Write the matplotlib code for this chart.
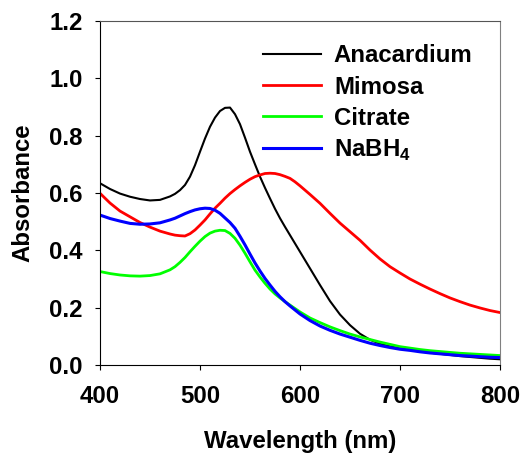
import matplotlib
matplotlib.use('Agg')
import matplotlib.pyplot as plt

plt.rcParams['font.family'] = ['Liberation Sans', 'DejaVu Sans']
plt.rcParams['font.weight'] = 'bold'
plt.rcParams['mathtext.fontset'] = 'custom'
plt.rcParams['mathtext.rm'] = 'Liberation Sans:bold'
plt.rcParams['mathtext.bf'] = 'Liberation Sans:bold'

FS = 17.3

# 10 nm steps at the ends, 5 nm across the plasmon band
wavelength = ([400, 410, 420, 430, 440, 450, 460]
              + list(range(470, 601, 5))
              + [610, 620, 630, 640, 650, 660, 670, 680, 690, 700,
                 710, 720, 730, 740, 750, 760, 770, 780, 790, 800])

anacardium = ([0.634, 0.614, 0.598, 0.587, 0.579, 0.574, 0.576]
              + [0.588, 0.597, 0.610, 0.628, 0.657, 0.697, 0.744, 0.790, 0.831,
                 0.863, 0.886, 0.897, 0.898, 0.875, 0.840, 0.793, 0.744, 0.700,
                 0.657, 0.618, 0.581, 0.545, 0.512, 0.482, 0.453, 0.424, 0.395]
              + [0.337, 0.279, 0.223, 0.176, 0.139, 0.109, 0.088, 0.074, 0.065, 0.058,
                 0.053, 0.048, 0.043, 0.039, 0.035, 0.031, 0.028, 0.025, 0.022, 0.020])
mimosa = ([0.599, 0.565, 0.537, 0.517, 0.497, 0.481, 0.467]
          + [0.457, 0.453, 0.451, 0.450, 0.458, 0.471, 0.488, 0.506, 0.527,
             0.547, 0.564, 0.582, 0.598, 0.612, 0.625, 0.637, 0.648, 0.657,
             0.663, 0.668, 0.669, 0.668, 0.664, 0.658, 0.651, 0.639, 0.625]
          + [0.595, 0.564, 0.529, 0.495, 0.465, 0.435, 0.401, 0.370, 0.343, 0.321,
             0.300, 0.282, 0.265, 0.249, 0.234, 0.221, 0.209, 0.199, 0.190, 0.183])
citrate = ([0.326, 0.319, 0.314, 0.311, 0.310, 0.312, 0.318]
           + [0.332, 0.343, 0.358, 0.375, 0.395, 0.414, 0.432, 0.448, 0.460,
              0.467, 0.470, 0.469, 0.459, 0.442, 0.418, 0.390, 0.360, 0.331,
              0.307, 0.285, 0.265, 0.248, 0.234, 0.221, 0.209, 0.197, 0.185]
           + [0.164, 0.148, 0.133, 0.120, 0.108, 0.098, 0.089, 0.080, 0.072, 0.064,
              0.059, 0.054, 0.050, 0.047, 0.044, 0.041, 0.039, 0.037, 0.035, 0.033])
nabh4 = ([0.523, 0.511, 0.502, 0.494, 0.491, 0.492, 0.496]
         + [0.506, 0.512, 0.520, 0.528, 0.535, 0.541, 0.545, 0.547, 0.546,
            0.540, 0.529, 0.513, 0.497, 0.477, 0.449, 0.419, 0.387, 0.356,
            0.328, 0.302, 0.279, 0.257, 0.238, 0.221, 0.206, 0.192, 0.178]
         + [0.155, 0.136, 0.121, 0.108, 0.097, 0.086, 0.076, 0.068, 0.061, 0.055,
            0.051, 0.046, 0.042, 0.039, 0.036, 0.033, 0.031, 0.029, 0.027, 0.026])

fig = plt.figure(figsize=(5.23, 4.54), dpi=100)
ax = fig.add_axes([100/523, 89/454, 400/523, 344/454])

ax.plot(wavelength, anacardium, color='black', lw=1.5, label='Anacardium')
ax.plot(wavelength, mimosa, color='#ff0000', lw=2.0, label='Mimosa')
ax.plot(wavelength, citrate, color='#00ff00', lw=2.0, label='Citrate')
ax.plot(wavelength, nabh4, color='#0000ff', lw=2.2, label=r'NaBH$_4$')

ax.set_xlim(400, 800)
ax.set_ylim(0, 1.2)
ax.set_xticks([400, 500, 600, 700, 800])
ax.set_yticks([0.0, 0.2, 0.4, 0.6, 0.8, 1.0, 1.2])
ax.set_yticklabels(['0.0', '0.2', '0.4', '0.6', '0.8', '1.0', '1.2'])
ax.tick_params(axis='both', direction='out', length=3.6, width=0.8,
               labelsize=FS, pad=9, top=False, right=False)
ax.tick_params(axis='x', pad=11)

ax.spines['top'].set_color('#555555')
ax.spines['right'].set_color('#808080')
for s in ax.spines.values():
    s.set_linewidth(0.8)

ax.set_xlabel('Wavelength (nm)', fontsize=FS, fontweight='bold')
ax.set_ylabel('Absorbance', fontsize=FS, fontweight='bold')
ax.xaxis.set_label_coords(0.5, -0.19)
ax.yaxis.set_label_coords(-0.165, 0.5)

ax.legend(loc='upper left', bbox_to_anchor=(0.4075, 0.932), frameon=False,
          prop={'size': FS, 'weight': 'bold'}, handlelength=2.4,
          handletextpad=0.55, labelspacing=0.34, borderpad=0, borderaxespad=0)

plt.savefig('out.png', dpi=100)
plt.close()
